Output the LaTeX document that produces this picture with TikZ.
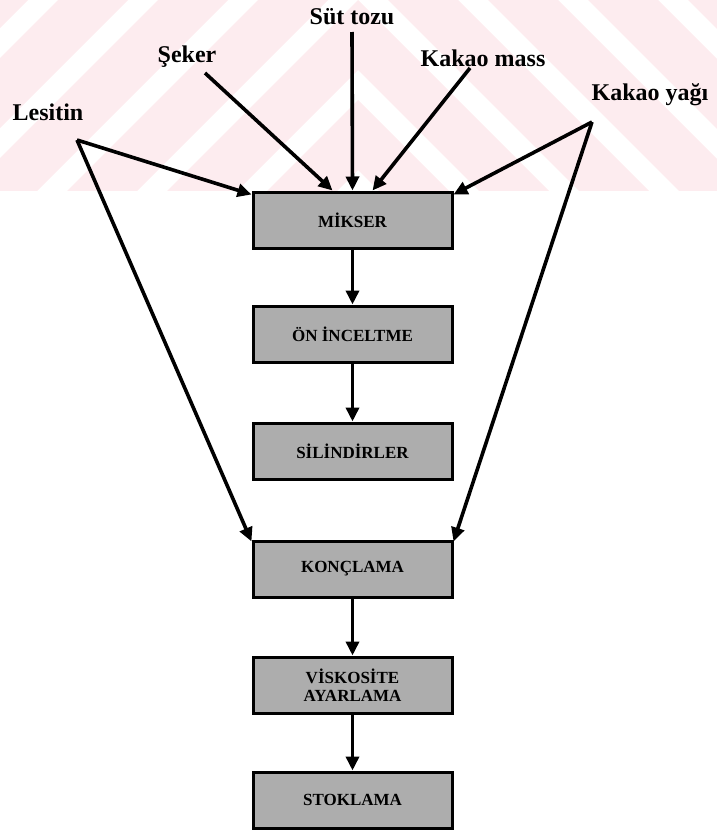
\documentclass[tikz,border=0pt]{standalone}
\usepackage{fontspec}
\setmainfont{Liberation Serif}
\usetikzlibrary{arrows.meta}
\definecolor{wm}{HTML}{FDECEF}
\definecolor{boxgray}{gray}{0.68}
\tikzset{
  stage/.style={draw=black, line width=3pt, fill=boxgray, minimum width=199pt,
    minimum height=56pt, inner sep=0pt, align=center,
    font=\fontsize{17}{18}\selectfont\bfseries},
  lbl/.style={font=\fontsize{24}{26}\selectfont\bfseries, inner sep=0pt},
  flow/.style={line width=3.6pt, line join=miter, -{Triangle[length=14pt,width=13pt]}},
}
\begin{document}
\begin{tikzpicture}[x=1pt,y=-1pt]
\useasboundingbox (0,0) rectangle (717,830);
% faint watermark band
\begin{scope}
  \clip (0,0) rectangle (717,190);
  \foreach \a in {-500,-400,...,200}{
    \fill[wm] (-642,\a+1000) -- (358,\a) -- (1358,\a+1000) -- (1358,\a+1070)
      -- (358,\a+70) -- (-642,\a+1070) -- cycle;
  }
\end{scope}
% process boxes
\node[stage] (mikser)   at (352.5,220) {MİKSER};
\node[stage] (onincelt) at (352.5,334) {ÖN İNCELTME};
\node[stage] (silindir) at (352.5,451) {SİLİNDİRLER};
\node[stage] (konc)     at (352.5,569) {KONÇLAMA};
\node[stage] (visk)     at (352.5,685) {VİSKOSİTE\\AYARLAMA};
\node[stage] (stok)     at (352.5,800) {STOKLAMA};
% ingredient labels
\node[lbl] (sut)     at (352,17)  {Süt tozu};
\node[lbl] (seker)   at (187,57)  {Şeker};
\node[lbl] (kmass)   at (483,58)  {Kakao mass};
\node[lbl] (lesitin) at (48,112)  {Lesitin};
\node[lbl] (kyag)    at (650,95)  {Kakao yağı};
% arrow start points
\coordinate (sutS)   at (352,32);
\coordinate (sekerS) at (205,73);
\coordinate (kmassS) at (470,68);
\coordinate (lesA)   at (77,140);
\coordinate (kyA)    at (592,122);
% ingredient arrows
\draw[flow] (sutS) -- (mikser.north);
\draw[flow] (sekerS) -- ([xshift=-20pt]mikser.north);
\draw[flow] (kmassS) -- ([xshift=20pt]mikser.north);
\draw[flow] (lesA) -- ([yshift=-4pt]mikser.north west);
\draw[flow] (kyA) -- ([yshift=-4pt]mikser.north east);
\draw[flow] (lesA) -- ([yshift=-2pt]konc.north west);
\draw[flow] (kyA) -- ([yshift=-2pt]konc.north east);
% process arrows
\draw[flow] (mikser) -- (onincelt);
\draw[flow] (onincelt) -- (silindir);
\draw[flow] (konc) -- (visk);
\draw[flow] (visk) -- (stok);
\end{tikzpicture}
\end{document}
